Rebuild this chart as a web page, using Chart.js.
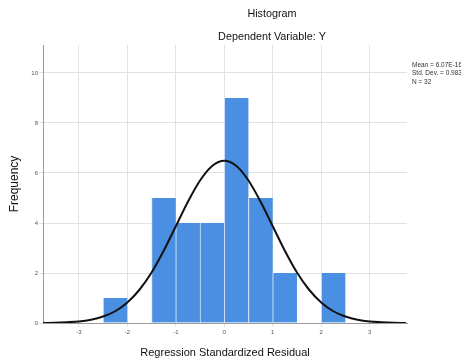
<!DOCTYPE html>
<html>
<head>
<meta charset="utf-8">
<script src="https://cdn.jsdelivr.net/npm/chart.js@4"></script>
<style>
  body { margin: 0; background: #fff; }
</style>
</head>
<body>
<canvas id="myChart" width="461" height="362"></canvas>
<script>
// histogram bins (width 0.5), centres and counts
const binCenters = [-2.25, -1.25, -0.75, -0.25, 0.25, 0.75, 1.25, 2.25]
const frequency = [1, 5, 4, 4, 9, 5, 2, 2]

// normal curve
const curveX = [-3.75, -3.5, -3.25, -3, -2.75, -2.5, -2.25, -2, -1.75, -1.5, -1.25, -1, -0.75, -0.5, -0.25,
  0, 0.25, 0.5, 0.75, 1, 1.25, 1.5, 1.75, 2, 2.25, 2.5, 2.75, 3, 3.25, 3.5, 3.75]
const curveY = [0, 0.01, 0.03, 0.06, 0.13, 0.26, 0.47, 0.82, 1.33, 2.02, 2.89, 3.87, 4.85, 5.7, 6.28,
  6.49, 6.28, 5.7, 4.85, 3.87, 2.89, 2.02, 1.33, 0.82, 0.47, 0.26, 0.13, 0.06, 0.03, 0.01, 0]

const xTicks = [-3, -2, -1, 0, 1, 2, 3]
const yTicks = [0, 2, 4, 6, 8, 10]
const statLines = ["Mean = 6.07E-16", "Std. Dev. = 0.983", "N = 32"]

const font = '"Liberation Sans", Arial, sans-serif'

let textPlugin = {
  id: "texts",
  afterDraw(chart) {
    const ctx = chart.ctx
    ctx.save()
    ctx.fillStyle = "#111"
    ctx.textAlign = "center"
    ctx.textBaseline = "middle"
    ctx.font = "10.8px " + font
    ctx.fillText("Histogram", 272, 14)
    ctx.fillText("Dependent Variable: Y", 272, 37)
    ctx.font = "11px " + font
    ctx.fillText("Regression Standardized Residual", 225, 353)
    ctx.save()
    ctx.translate(15, 184)
    ctx.rotate(-Math.PI / 2)
    ctx.font = "12px " + font
    ctx.fillText("Frequency", 0, 0)
    ctx.restore()
    ctx.textAlign = "left"
    ctx.font = "6.5px " + font
    ctx.fillStyle = "#333"
    for (let i = 0; i < statLines.length; i++) {
      ctx.fillText(statLines[i], 412, 65 + i * 8.5)
    }
    ctx.restore()
  }
}

const ctx = document.getElementById("myChart")
new Chart(ctx, {
  type: "bar",
  data: {
    datasets: [
      {
        type: "line",
        data: curveX.map((x, i) => ({ x: x, y: curveY[i] })),
        borderColor: "#111",
        borderWidth: 2,
        pointRadius: 0,
        cubicInterpolationMode: "monotone",
        order: 0
      },
      {
        type: "bar",
        data: binCenters.map((x, i) => ({ x: x, y: frequency[i] })),
        backgroundColor: "#4a8fe2",
        borderColor: "#d4e5f9",
        borderWidth: { left: 1, right: 0, top: 0, bottom: 0 },
        borderSkipped: false,
        barPercentage: 1,
        categoryPercentage: 1,
        grouped: false,
        order: 1
      }
    ]
  },
  options: {
    responsive: false,
    animation: false,
    layout: { padding: { top: 45, right: 54, left: 0, bottom: 0 } },
    plugins: { legend: { display: false }, tooltip: { enabled: false } },
    scales: {
      x: {
        type: "linear",
        min: -3.74,
        max: 3.77,
        offset: false,
        afterBuildTicks: (s) => { s.ticks = xTicks.map((v) => ({ value: v })) },
        afterFit: (s) => { s.height = 39 },
        grid: { color: "#e2e2e2", tickLength: 4, offset: false },
        border: { color: "#9a9a9a" },
        ticks: { font: { size: 6, family: font }, color: "#555", padding: 2, maxRotation: 0, autoSkip: false }
      },
      y: {
        min: 0,
        max: 11.12,
        afterBuildTicks: (s) => { s.ticks = yTicks.map((v) => ({ value: v })) },
        afterFit: (s) => { s.width = 43 },
        grid: { color: "#e2e2e2", tickLength: 4 },
        border: { color: "#9a9a9a" },
        ticks: { font: { size: 6, family: font }, color: "#555", padding: 1 }
      }
    }
  },
  plugins: [textPlugin]
})
</script>
</body>
</html>
